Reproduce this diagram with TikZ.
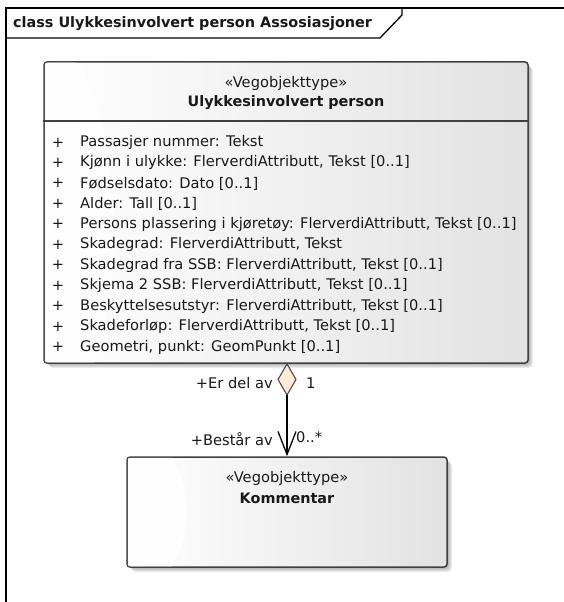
\documentclass[tikz,border=0pt]{standalone}
\usepackage{fontspec}
\setmainfont{DejaVu Sans}
\usetikzlibrary{arrows.meta,shapes.geometric}
\definecolor{boxline}{HTML}{404040}
\definecolor{boxgray}{HTML}{E2E2E2}
\definecolor{diafill}{HTML}{FCEBD6}
\begin{document}
\begin{tikzpicture}[x=1pt,y=-1pt,
  txt/.style={font=\fontsize{14.65}{18}\selectfont, inner sep=0pt, text=black!90},
  btxt/.style={txt, font=\fontsize{14.4}{18}\selectfont\bfseries},
  classbox/.style={draw=boxline, line width=1.5pt, rounded corners=3pt, left color=white, right color=boxgray, inner sep=0pt},
  shadowbox/.style={fill=black, opacity=0.07, rounded corners=4pt},
  frameline/.style={draw=black, line width=1.3pt},
  assoc/.style={draw=black, line width=1.3pt},
  diamondstyle/.style={draw=black!70, fill=diafill, line width=1.1pt, line join=miter}
]
\useasboundingbox (0,0) rectangle (563,602);
\fill[white] (0,0) rectangle (563,602);

% frame
\draw[frameline] (6,603) -- (6,8) -- (564,8);
\draw[frameline] (6,38) -- (380,38) -- (402,15) -- (402,8);
\node[btxt, anchor=west] (title) at (13,24) {class Ulykkesinvolvert person Assosiasjoner};

% shadows
\foreach \i in {1,...,5} {
  \fill[shadowbox] (44+\i,62+\i) rectangle (528+\i,363+\i);
  \fill[shadowbox] (127+\i,457+\i) rectangle (447+\i,567+\i);
}

% main class
\node[classbox, minimum width=484pt, minimum height=301pt] (main) at (286,212.5) {};
\begin{scope}
  \clip[rounded corners=2pt] ([shift={(1.5,1.5)}]main.north west) rectangle ([shift={(-1.5,-1.5)}]main.south east);
  \fill[white, opacity=0.75] (44,230) ellipse [x radius=70, y radius=190];
\end{scope}
\coordinate (sepy) at (0,121);
\draw[boxline, line width=1.3pt] (main.west |- sepy) -- (main.east |- sepy);
\node[txt] (st1) at (286,83) {«Vegobjekttype»};
\node[btxt] (nm1) at (286,103) {Ulykkesinvolvert person};

\foreach \t [count=\k from 0] in {
  {Passasjer nummer: Tekst},
  {Kjønn i ulykke: FlerverdiAttributt, Tekst [0..1]},
  {Fødselsdato: Dato [0..1]},
  {Alder: Tall [0..1]},
  {Persons plassering i kjøretøy: FlerverdiAttributt, Tekst [0..1]},
  {Skadegrad: FlerverdiAttributt, Tekst},
  {Skadegrad fra SSB: FlerverdiAttributt, Tekst [0..1]},
  {Skjema 2 SSB: FlerverdiAttributt, Tekst [0..1]},
  {Beskyttelsesutstyr: FlerverdiAttributt, Tekst [0..1]},
  {Skadeforløp: FlerverdiAttributt, Tekst [0..1]},
  {Geometri, punkt: GeomPunkt [0..1]}} {
  \node[txt] (plus\k) at (58,142.5+20.45*\k) {+};
  \node[txt, anchor=west] (attr\k) at (80,142.5+20.45*\k) {\t};
}

% Kommentar class
\node[classbox, minimum width=320pt, minimum height=110pt] (kom) at (287,512) {};
\begin{scope}
  \clip[rounded corners=2pt] ([shift={(1.5,1.5)}]kom.north west) rectangle ([shift={(-1.5,-1.5)}]kom.south east);
  \fill[white, opacity=0.8] (120,512) ellipse [x radius=67, y radius=85];
\end{scope}
\node[txt] (st2) at (287,478) {«Vegobjekttype»};
\node[btxt] (nm2) at (287,498) {Kommentar};

% aggregation
\coordinate (dtop) at (287,364);
\coordinate (dright) at (296,379.5);
\coordinate (dbot) at (287,395);
\coordinate (dleft) at (278,379.5);
\draw[diamondstyle] (dtop) -- (dright) -- (dbot) -- (dleft) -- cycle;
\draw[assoc, -{Straight Barb[length=23pt, width=18pt, line width=1.3pt]}] (dbot) -- (kom.north);

\node[txt, anchor=east] (l1) at (273,383) {+Er del av};
\node[txt, anchor=west] (l2) at (306,383) {1};
\node[txt, anchor=east] (l3) at (273,439) {+Består av};
\node[txt, anchor=west] (l4) at (296,437) {0..*};
\end{tikzpicture}
\end{document}
